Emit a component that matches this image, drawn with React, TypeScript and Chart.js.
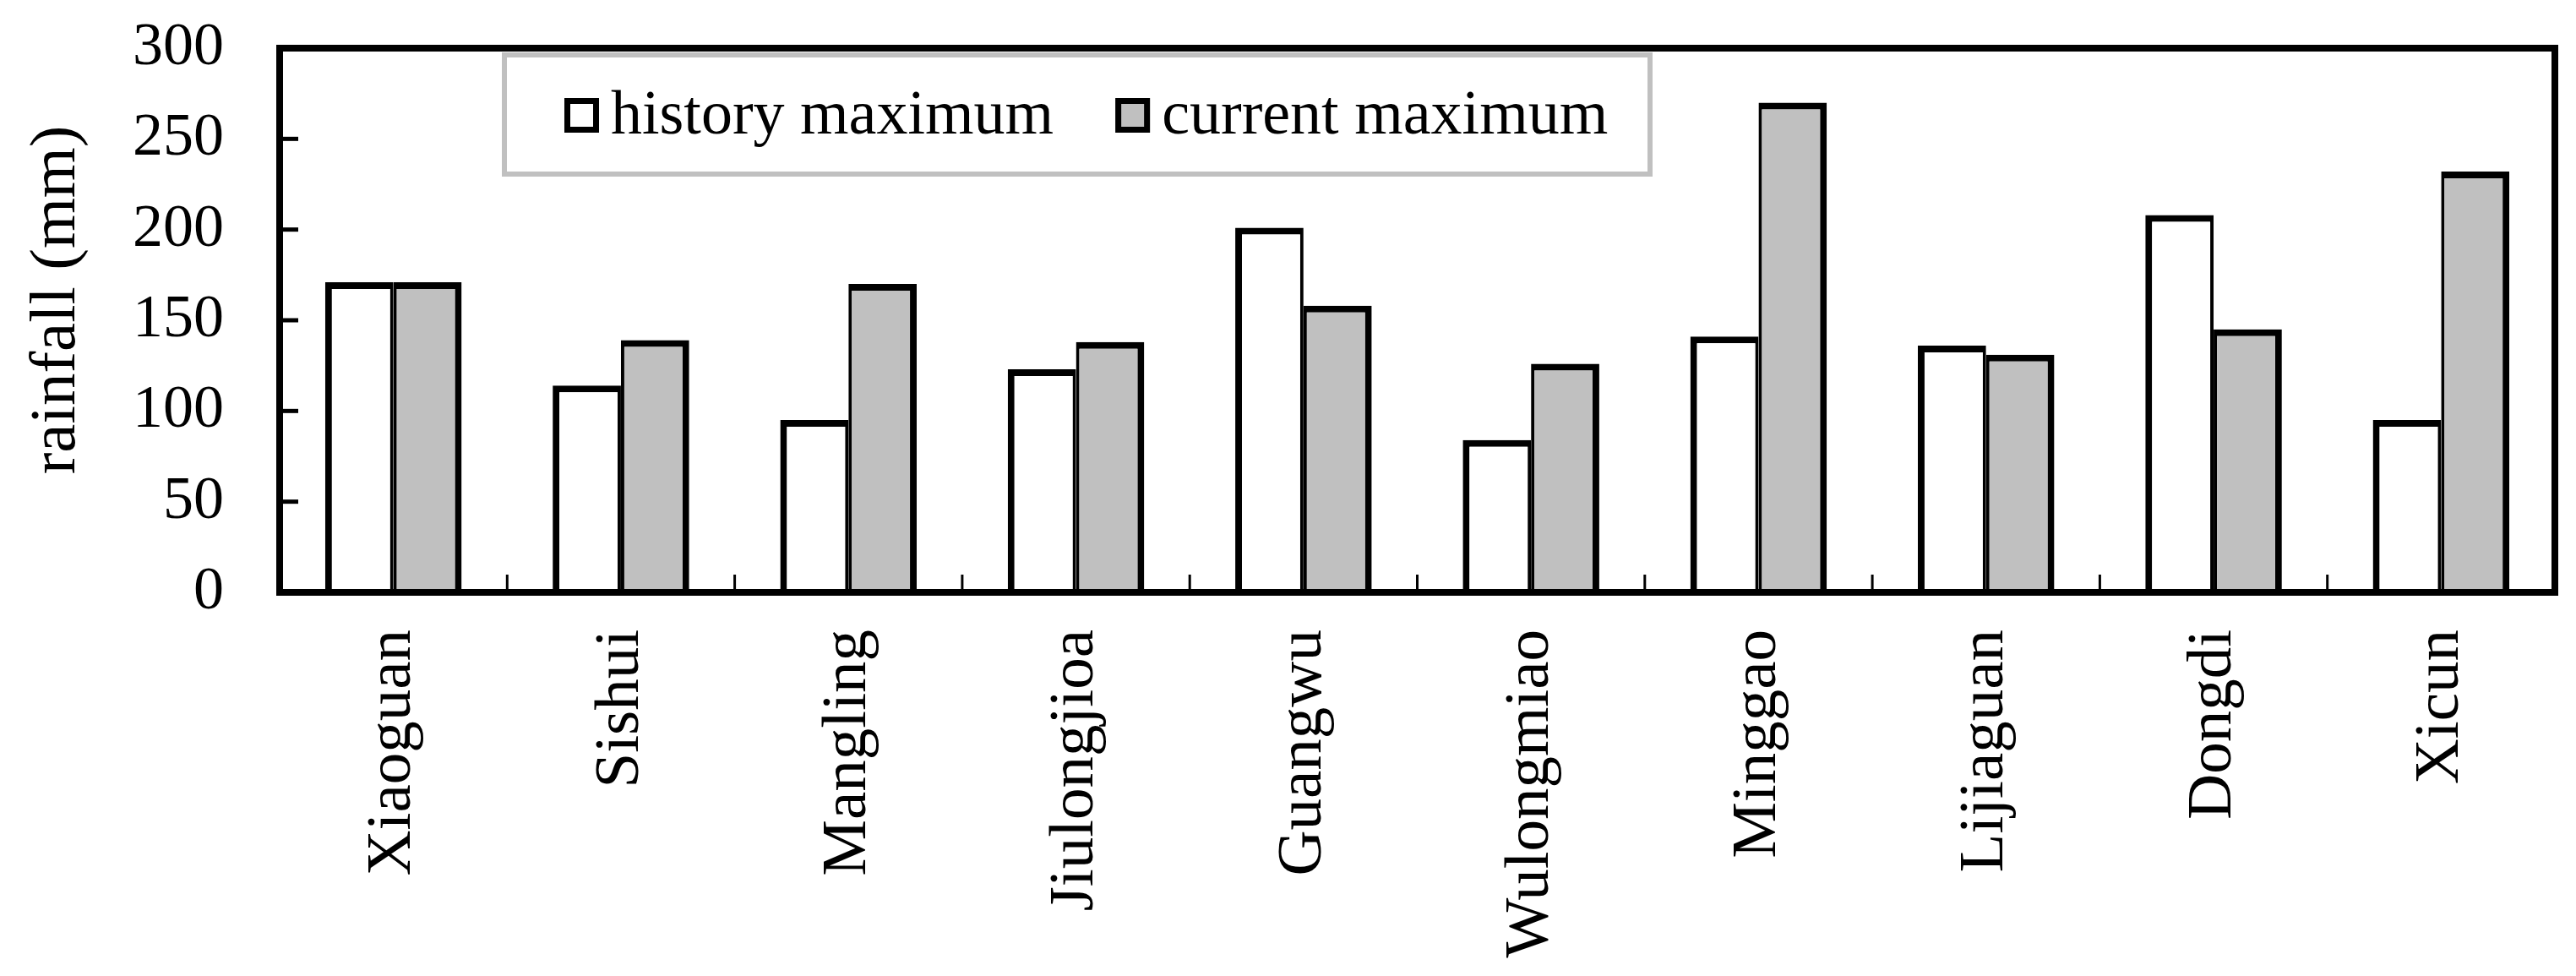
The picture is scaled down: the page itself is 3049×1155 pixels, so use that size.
import React, { useEffect, useRef } from 'react';
import { Chart, registerables } from 'chart.js';

Chart.register(...registerables);

const categories = ['Xiaoguan', 'Sishui', 'Mangling', 'Jiulongjioa', 'Guangwu', 'Wulongmiao', 'Minggao', 'Lijiaguan', 'Dongdi', 'Xicun'];
const historyMax = [171, 114, 95, 123, 201, 84, 141, 136, 208, 95];
const currentMax = [171, 139, 170, 138, 158, 126, 270, 131, 145, 232];
const seriesLabels = ['history maximum', 'current maximum'];
const seriesColors = ['#ffffff', '#c0c0c0'];
const yTicks = [0, 50, 100, 150, 200, 250, 300];
const yTitle = 'rainfall (mm)';

const FONT = '"Liberation Serif", "Times New Roman", serif';

export default function App() {
  const ref = useRef<HTMLCanvasElement>(null);

  useEffect(() => {
    const canvas = ref.current!;

    const decorPlugin = {
      id: 'decor',
      afterDatasetsDraw(chart: any) {
        const { ctx, chartArea: a, scales } = chart;
        const xs = scales.x;
        const ys = scales.y;
        ctx.save();
        ctx.strokeStyle = '#000';
        ctx.lineCap = 'butt';
        // inward y ticks
        ctx.lineWidth = 5;
        yTicks.forEach((v) => {
          if (v === yTicks[0] || v === yTicks[yTicks.length - 1]) return;
          const py = ys.getPixelForValue(v);
          ctx.beginPath();
          ctx.moveTo(a.left, py);
          ctx.lineTo(a.left + 22, py);
          ctx.stroke();
        });
        // inward x ticks between categories
        ctx.lineWidth = 3;
        for (let i = 1; i < categories.length; i++) {
          const px = (xs.getPixelForValue(i - 1) + xs.getPixelForValue(i)) / 2;
          ctx.beginPath();
          ctx.moveTo(px, a.bottom);
          ctx.lineTo(px, a.bottom - 21);
          ctx.stroke();
        }
        // frame
        ctx.lineWidth = 8;
        ctx.lineJoin = 'miter';
        ctx.strokeRect(a.left, a.top, a.right - a.left, a.bottom - a.top);
        ctx.restore();
      },
      afterDraw(chart: any) {
        const { ctx } = chart;
        ctx.save();
        // y axis title
        ctx.font = `77px ${FONT}`;
        ctx.fillStyle = '#000';
        ctx.translate(88, 355);
        ctx.rotate(-Math.PI / 2);
        ctx.textAlign = 'center';
        ctx.textBaseline = 'alphabetic';
        ctx.fillText(yTitle, 0, 0);
        ctx.restore();

        // legend
        ctx.save();
        const bx = 597, by = 65, bw = 1356, bh = 141;
        ctx.fillStyle = '#ffffff';
        ctx.fillRect(bx, by, bw, bh);
        ctx.strokeStyle = '#c0c0c0';
        ctx.lineWidth = 6;
        ctx.strokeRect(bx, by, bw, bh);
        ctx.font = `74px ${FONT}`;
        ctx.textAlign = 'left';
        ctx.textBaseline = 'alphabetic';
        let sx = 668;
        chart.data.datasets.forEach((ds: any) => {
          const sw = 41;
          const sy = 116;
          ctx.fillStyle = ds.backgroundColor;
          ctx.fillRect(sx, sy, sw, sw);
          ctx.strokeStyle = '#000';
          ctx.lineWidth = 7;
          ctx.strokeRect(sx + 3.5, sy + 3.5, sw - 7, sw - 7);
          const tx = sx + 55;
          ctx.fillStyle = '#000';
          ctx.fillText(ds.label, tx, 158);
          sx = tx + ctx.measureText(ds.label).width + 73;
        });
        ctx.restore();
      },
    };

    const chart = new Chart(canvas, {
      type: 'bar',
      data: {
        labels: categories,
        datasets: [
          {
            label: seriesLabels[0],
            data: historyMax,
            backgroundColor: seriesColors[0],
            borderColor: '#000',
            borderWidth: { top: 8, left: 8, right: 4, bottom: 0 },
            borderSkipped: 'start',
            categoryPercentage: 0.6,
            barPercentage: 1,
          },
          {
            label: seriesLabels[1],
            data: currentMax,
            backgroundColor: seriesColors[1],
            borderColor: '#000',
            borderWidth: { top: 8, left: 4, right: 8, bottom: 0 },
            borderSkipped: 'start',
            categoryPercentage: 0.6,
            barPercentage: 1,
          },
        ],
      },
      options: {
        responsive: false,
        animation: false,
        devicePixelRatio: 1,
        layout: { padding: { top: 57, right: 25, bottom: 0, left: 0 } },
        plugins: {
          legend: { display: false },
          tooltip: { enabled: false },
          title: { display: false },
        },
        scales: {
          x: {
            grid: { display: false, drawTicks: false },
            border: { display: false },
            ticks: {
              autoSkip: false,
              minRotation: 90,
              maxRotation: 90,
              padding: 44,
              color: '#000',
              font: { family: FONT, size: 75 },
            },
            afterFit(scale: any) {
              scale.height = 454;
              scale.paddingLeft = 0;
              scale.paddingRight = 0;
              scale.paddingTop = 0;
              scale.paddingBottom = 0;
            },
          },
          y: {
            min: 0,
            max: 300,
            grid: { display: false, drawTicks: false },
            border: { display: false },
            ticks: {
              stepSize: 50,
              padding: 66,
              color: '#000',
              font: { family: FONT, size: 72 },
            },
            afterFit(scale: any) {
              scale.width = 331;
              scale.paddingTop = 0;
              scale.paddingBottom = 0;
              scale.paddingLeft = 0;
              scale.paddingRight = 0;
            },
          },
        },
      },
      plugins: [decorPlugin],
    } as any);

    return () => chart.destroy();
  }, []);

  return (
    <div style={{ position: 'absolute', left: 0, top: 0, width: 3049, height: 1155, background: '#fff' }}>
      <canvas ref={ref} width={3049} height={1155} style={{ width: 3049, height: 1155, display: 'block' }} />
    </div>
  );
}
